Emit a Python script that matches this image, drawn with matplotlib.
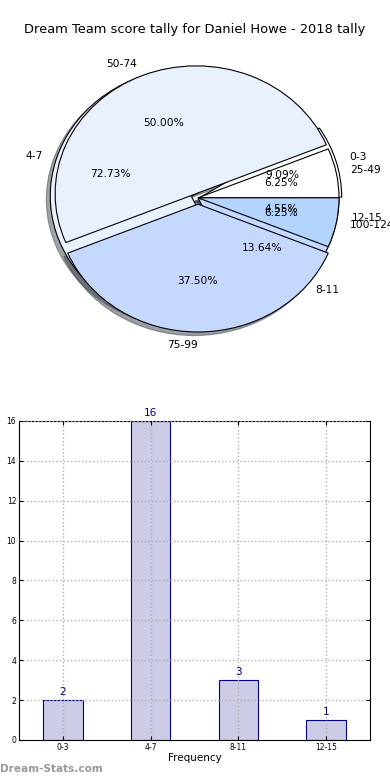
import matplotlib
matplotlib.use('Agg')
import matplotlib.pyplot as plt
import numpy as np

# data
tally_labels = ['0-3', '4-7', '8-11', '12-15']
tally_counts = [2, 16, 3, 1]
score_labels = ['25-49', '50-74', '75-99', '100-124']
score_counts = [1, 8, 6, 1]
pie_colors = ['#ffffff', '#eaf1fe', '#c5d8fe', '#b3d4fe']

fig = plt.figure(figsize=(3.9, 7.8), dpi=100)
fig.text(0.5, 1 - 30/780., 'Dream Team score tally for Daniel Howe - 2018 tally',
         ha='center', va='center', fontsize=9.4)

# pie (two pies stacked on one axes)
ax0 = fig.add_axes([0.0558, 0.5416, 0.9038, 0.4096])
wp = {'edgecolor': 'black', 'linewidth': 0.8}
tp = {'fontsize': 7.7}
ax0.pie(tally_counts, labels=tally_labels, colors=pie_colors, autopct='%1.2f%%',
        explode=[0.02, 0.05, 0, 0], shadow=True, wedgeprops=wp, textprops=tp)
w2, t2, p2 = ax0.pie(score_counts, labels=score_labels, colors=pie_colors, autopct='%1.2f%%',
                     explode=[0, 0.035, 0.05, 0], shadow=True, wedgeprops=wp, textprops=tp)
t2[2].set_ha('right')   # 75-99 sits right of bottom centre in the original
ax0.set_aspect('auto')
ax0.set_xlim(-1.25, 1.25)
ax0.set_ylim(-1.25, 1.25)

# bar chart
ax1 = fig.add_axes([0.0487, 0.0513, 0.9, 0.409])
x = np.arange(len(tally_labels))
ax1.bar(x, tally_counts, width=0.45, color='#ccccE6', edgecolor='navy', linewidth=0.8)
for xi, c in zip(x, tally_counts):
    ax1.text(xi, c + 0.15, str(c), ha='center', va='bottom', color='navy', fontsize=7.5)
ax1.set_xlim(-0.5, 3.5)
ax1.set_ylim(0, 16)
ax1.set_xticks(x)
ax1.set_xticklabels(tally_labels)
ax1.set_yticks(range(0, 17, 2))
ax1.tick_params(labelsize=5.5, direction='in', top=True, right=True, length=3, pad=2)
ax1.set_axisbelow(False)
ax1.grid(True, linestyle=':', color='#b0b0b0', linewidth=1)
ax1.set_xlabel('Frequency', fontsize=7.5, labelpad=1)
ax1.set_ylabel('Score Interval', fontsize=7.5, labelpad=2)
ax1.yaxis.set_label_coords(-0.062, 0.5)

fig.text(0.0, 6/780., 'Dream-Stats.com', color='#999999', fontsize=7.6,
         fontweight='bold', ha='left', va='bottom')

plt.savefig('out.png', dpi=100)
